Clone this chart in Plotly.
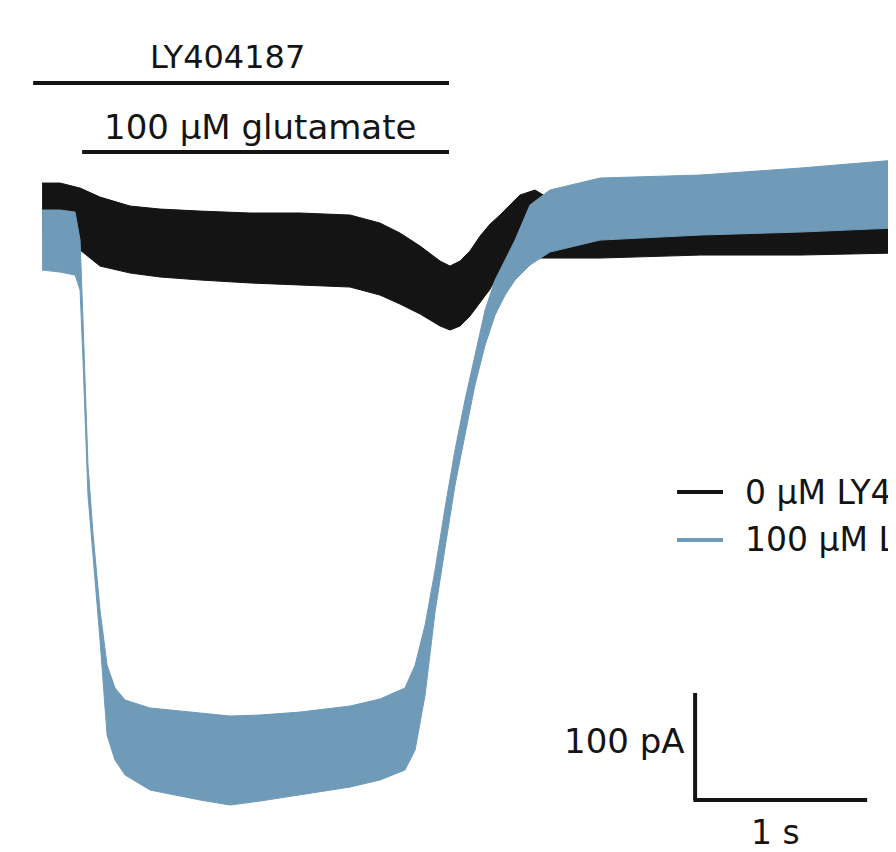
import plotly.graph_objects as go

# ---- data (time in s from trace start, current in pA relative to baseline) ----
t_black = [0.000, 0.105, 0.221, 0.337, 0.512, 0.686, 0.919, 1.209, 1.500, 1.791,
           1.965, 2.081, 2.198, 2.314, 2.372, 2.430, 2.488, 2.547, 2.605, 2.663,
           2.721, 2.779, 2.866, 3.012, 3.244, 3.826, 4.407, 4.965]
black_hi = [11.2, 11.2, 6.5, -1.9, -10.3, -13.1, -15.0, -16.8, -16.8, -18.7,
            -26.2, -35.5, -47.7, -61.7, -66.4, -61.7, -52.3, -38.3, -27.1, -18.7,
            -9.3, 0.0, 4.7, -9.3, -18.7, -18.7, -15.9, -15.9]
black_lo = [-37.4, -37.4, -51.4, -66.4, -72.9, -76.6, -79.4, -82.2, -84.1, -86.0,
            -93.5, -101.9, -111.2, -122.4, -126.2, -122.4, -113.1, -100.9, -87.9, -70.1,
            -60.7, -58.9, -58.9, -58.9, -58.9, -56.1, -56.1, -54.2]

t_blue = [0.000, 0.105, 0.192, 0.221, 0.238, 0.267, 0.297, 0.337, 0.378, 0.424,
          0.483, 0.628, 0.919, 1.093, 1.267, 1.500, 1.791, 1.965, 2.110, 2.169,
          2.227, 2.285, 2.343, 2.401, 2.459, 2.517, 2.576, 2.634, 2.692, 2.750,
          2.837, 2.953, 3.244, 3.826, 4.407, 4.965]
blue_hi = [-14.0, -14.0, -15.9, -42.1, -116.8, -252.3, -317.8, -387.9, -439.3, -460.7,
           -472.0, -479.4, -484.1, -486.9, -486.0, -483.2, -477.6, -471.0, -460.7, -439.3,
           -401.9, -350.5, -292.5, -238.3, -191.6, -149.5, -107.5, -79.4, -60.7, -42.1,
           -9.3, 4.7, 15.9, 18.7, 25.2, 32.7]
blue_lo = [-70.1, -72.0, -74.8, -88.8, -154.2, -280.4, -341.1, -415.9, -504.7, -528.0,
           -542.1, -556.1, -565.4, -570.1, -566.4, -560.7, -553.3, -546.7, -537.4, -518.7,
           -467.3, -389.7, -329.9, -271.0, -224.3, -177.6, -140.2, -112.1, -93.5, -79.4,
           -65.4, -53.3, -42.1, -37.4, -34.6, -30.8]

series_names = ["0 µM LY404187", "100 µM LY404187"]
drug_label = "LY404187"
agonist_label = "100 µM glutamate"
drug_window = [-0.052, 2.366]
agonist_window = [0.233, 2.366]
scale_t = 1.0      # s
scale_i = 100.0    # pA

BLACK = "#141414"
BLUE = "#6f9bb9"
FONT = "'DejaVu Sans', Verdana, sans-serif"

fig = go.Figure()


def band(t, hi, lo, color, name):
    fig.add_trace(go.Scatter(
        x=list(t) + list(t)[::-1],
        y=list(hi) + list(lo)[::-1],
        fill="toself", fillcolor=color, mode="lines",
        line=dict(color=color, width=1), name=name, showlegend=False,
        hoverinfo="skip"))


band(t_black, black_hi, black_lo, BLACK, series_names[0])
band(t_blue, blue_hi, blue_lo, BLUE, series_names[1])

shapes = []
ann = []

# application bars
shapes.append(dict(type="line", xref="x", yref="y", x0=drug_window[0], x1=drug_window[1],
                   y0=104.7, y1=104.7, line=dict(color=BLACK, width=4)))
shapes.append(dict(type="line", xref="x", yref="y", x0=agonist_window[0], x1=agonist_window[1],
                   y0=40.2, y1=40.2, line=dict(color=BLACK, width=4)))
ann.append(dict(x=1.081, y=129.0, xref="x", yref="y", text=drug_label, showarrow=False,
                font=dict(family=FONT, size=32, color=BLACK), xanchor="center", yanchor="middle"))
ann.append(dict(x=1.267, y=63.6, xref="x", yref="y", text=agonist_label, showarrow=False,
                font=dict(family=FONT, size=34, color=BLACK), xanchor="center", yanchor="middle"))

# legend (manual)
for nm, col, yy in [(series_names[0], BLACK, -277.6), (series_names[1], BLUE, -322.4)]:
    shapes.append(dict(type="line", xref="x", yref="y", x0=3.692, x1=3.959, y0=yy, y1=yy,
                       line=dict(color=col, width=4)))
    ann.append(dict(x=4.076, y=yy, xref="x", yref="y", text=nm, showarrow=False,
                    font=dict(family=FONT, size=33, color=BLACK), xanchor="left", yanchor="middle"))

# scale bar
cx, cy = 3.797, -565.4
shapes.append(dict(type="line", xref="x", yref="y", x0=cx, x1=cx, y0=cy, y1=cy + scale_i,
                   line=dict(color=BLACK, width=4)))
shapes.append(dict(type="line", xref="x", yref="y", x0=cx - 0.01, x1=cx + scale_t, y0=cy, y1=cy,
                   line=dict(color=BLACK, width=4)))
ann.append(dict(x=cx - 0.05, y=cy + 0.55 * scale_i, xref="x", yref="y", text="100 pA", showarrow=False,
                font=dict(family=FONT, size=34, color=BLACK), xanchor="right", yanchor="middle"))
ann.append(dict(x=cx + 0.465 * scale_t, y=cy - 30, xref="x", yref="y", text="1 s", showarrow=False,
                font=dict(family=FONT, size=33, color=BLACK), xanchor="center", yanchor="middle"))

# page has an 8px body margin: the figure occupies page pixels 8..896 x 8..852
fig.update_layout(
    width=888, height=844,
    margin=dict(l=0, r=0, t=0, b=0),
    paper_bgcolor="white", plot_bgcolor="white",
    xaxis=dict(range=[-0.198, 4.965], visible=False, fixedrange=True),
    yaxis=dict(range=[-614.0, 174.8], visible=False, fixedrange=True),
    shapes=shapes, annotations=ann, showlegend=False,
)

fig.write_html("out.html")
